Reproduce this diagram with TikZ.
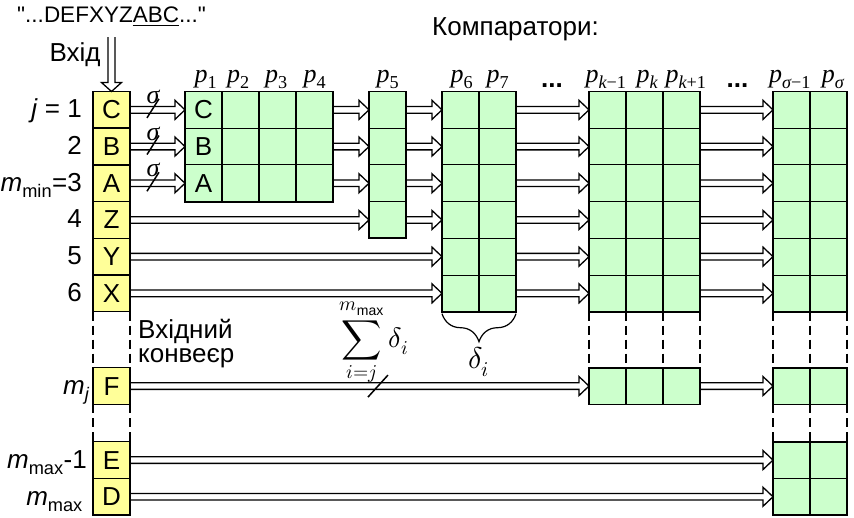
\documentclass[tikz,border=0pt]{standalone}
\usepackage{fontspec}
\usepackage{unicode-math}
\setmainfont{Liberation Sans}
\newfontfamily\plainsans{Liberation Sans}
\newfontfamily\tms{Liberation Serif}
\usetikzlibrary{calc,decorations.pathreplacing}
\definecolor{cgreen}{HTML}{CCFFCC}
\definecolor{cyellow}{HTML}{FFFF99}
\tikzset{
 ycell/.style={draw, line width=1.5pt, fill=cyellow, minimum width=37pt, minimum height=36.7pt, inner sep=0pt, outer sep=0pt, font=\fontsize{26}{30}\selectfont},
 gcell/.style={draw, line width=1pt, fill=cgreen, minimum width=37pt, minimum height=36.7pt, inner sep=0pt, outer sep=0pt},
 outerline/.style={line width=1.8pt},
 colline/.style={line width=1.5pt},
 arrline/.style={line width=1.3pt, line join=miter},
 dashedline/.style={line width=2pt, dash pattern=on 9pt off 5pt},
 lbl/.style={font=\fontsize{26}{30}\selectfont, inner sep=0pt},
 plbl/.style={font=\fontsize{26}{30}\selectfont, inner sep=0pt, anchor=base},
 slashline/.style={line width=1.5pt},
}
\newcommand\pl[1]{{\tms\itshape p}\textsubscript{\tms #1}}
\newcommand\compblock[5]{%
 \foreach \ri in {1,...,#5}{\foreach \ci in {1,...,#4}{
   \node[gcell] (#1-\ri-\ci) at ({#2+37*(\ci-0.5)},{#3+36.7*(\ri-0.5)}) {};}}
 \draw[outerline] (#1-1-1.north west) rectangle (#1-#5-#4.south east);
 \ifnum#4>1 \foreach \ci in {2,...,#4}{\draw[colline] (#1-1-\ci.north west) -- (#1-#5-\ci.south west);}\fi
}
\newcommand\harrow[2]{\draw[arrline] let \p1=#1, \p2=#2 in
 (\x1,\y1+3.3pt) -- (\x2-10pt,\y1+3.3pt) -- (\x2-10pt,\y1+9.5pt) -- (\x2,\y1)
 -- (\x2-10pt,\y1-9.5pt) -- (\x2-10pt,\y1-3.3pt) -- (\x1,\y1-3.3pt);}
\newcommand\varrow[2]{\draw[arrline] let \p1=#1, \p2=#2 in
 (\x1-3.5pt,\y1) -- (\x1-3.5pt,\y2+9pt) -- (\x1-10pt,\y2+9pt) -- (\x1,\y2)
 -- (\x1+10pt,\y2+9pt) -- (\x1+3.5pt,\y2+9pt) -- (\x1+3.5pt,\y1);}
\begin{document}
\begin{tikzpicture}[x=1pt,y=-1pt]
\useasboundingbox (0,0) rectangle (854,517);
% input column
\foreach \i/\L/\yy in {1/C/109.85,2/B/146.55,3/A/183.25,4/Z/219.95,5/Y/256.65,6/X/293.35,F/F/386.05,E/E/460.05,D/D/496.75}
  \node[ycell] (Y\i) at (111.5,\yy) {\L};
% comparators
\compblock{PA}{185}{91.5}{4}{3}
\compblock{PB}{369}{91.5}{1}{4}
\compblock{PC}{442}{91.5}{2}{6}
\compblock{PK}{589}{91.5}{3}{6}
\compblock{PS}{773}{91.5}{2}{6}
\compblock{PKF}{589}{367.7}{3}{1}
\compblock{PSF}{773}{367.7}{2}{1}
\compblock{PSE}{773}{441.7}{2}{2}
\node[lbl] (lc) at (PA-1-1) {C};
\node[lbl] (lb) at (PA-2-1) {B};
\node[lbl] (la) at (PA-3-1) {A};
% arrows
\foreach \i in {1,2,3}{
  \harrow{(Y\i.east)}{(PA-\i-1.west)}
  \draw[slashline] ($(Y\i.east)+(17,8)$) -- ++(12,-19);
  \node[font=\fontsize{26}{30}\selectfont\tms\itshape, inner sep=0pt] (sg\i) at ($(Y\i.east)+(23,-13)$) {σ};
  \harrow{(PA-\i-4.east)}{(PB-\i-1.west)}
}
\harrow{(Y4.east)}{(PB-4-1.west)}
\foreach \i in {1,...,4}{\harrow{(PB-\i-1.east)}{(PC-\i-1.west)}}
\foreach \i in {5,6}{\harrow{(Y\i.east)}{(PC-\i-1.west)}}
\foreach \i in {1,...,6}{
  \harrow{(PC-\i-2.east)}{(PK-\i-1.west)}
  \harrow{(PK-\i-3.east)}{(PS-\i-1.west)}
}
\harrow{(YF.east)}{(PKF-1-1.west)}
\harrow{(PKF-1-3.east)}{(PSF-1-1.west)}
\harrow{(YE.east)}{(PSE-1-1.west)}
\harrow{(YD.east)}{(PSE-2-1.west)}
\draw[slashline] ($(YF.east)+(238,11)$) -- ++(20,-22);
% input arrow
\coordinate (inTop) at (111.5,37);
\varrow{(inTop)}{(Y1.north)}
% dashed continuation lines
\draw[dashedline] (Y6.south west) -- (YF.north west);
\draw[dashedline] (Y6.south east) -- (YF.north east);
\draw[dashedline] (YF.south west) -- (YE.north west);
\draw[dashedline] (YF.south east) -- (YE.north east);
\foreach \ci in {1,2,3}{\draw[dashedline] (PK-6-\ci.south west) -- (PKF-1-\ci.north west);}
\draw[dashedline] (PK-6-3.south east) -- (PKF-1-3.north east);
\foreach \ci in {1,2}{
  \draw[dashedline] (PS-6-\ci.south west) -- (PSF-1-\ci.north west);
  \draw[dashedline] (PSF-1-\ci.south west) -- (PSE-1-\ci.north west);
}
\draw[dashedline] (PS-6-2.south east) -- (PSF-1-2.north east);
\draw[dashedline] (PSF-1-2.south east) -- (PSE-1-2.north east);
% brace
\draw[decorate, decoration={brace, mirror, amplitude=28pt}, line width=1.2pt]
  ($(PC-6-1.south west)+(0,2)$) -- ($(PC-6-2.south east)+(0,2)$);
\node[font=\fontsize{30}{34}\selectfont, inner sep=0pt] (dl) at (479,362) {$\delta_i$};
\node[font=\fontsize{28}{32}\selectfont, inner sep=0pt] (sum) at (374,342) {$\displaystyle\sum_{i=j}^{m_{\max}}\delta_i$};
% texts
\node[font=\fontsize{22.5}{26}\selectfont, inner sep=0pt] (top) at (111.5,17) {\plainsans "...DEFXYZ\underline{ABC}..."};
\node[lbl] (vh) at (75,55) {Вхід};
\node[lbl, anchor=base] (komp) at (515.5,35) {Компаратори:};
\node[lbl, anchor=base west] (vk1) at (138,338) {Вхідний};
\node[lbl, anchor=base west] (vk2) at (138,362) {конвеєр};
\node[lbl, anchor=base east] (j1) at (82,117.85) {\textit{j} = 1};
\node[lbl, anchor=base east] (j2) at (82,154.55) {2};
\node[lbl, anchor=base east] (j3) at (82,191.25) {\textit{m}\textsubscript{min}=3};
\node[lbl, anchor=base east] (j4) at (82,227.95) {4};
\node[lbl, anchor=base east] (j5) at (82,264.65) {5};
\node[lbl, anchor=base east] (j6) at (82,301.35) {6};
\node[lbl, anchor=base east] (jm) at (90,394) {\textit{m}\textsubscript{\textit{j}}};
\node[lbl, anchor=base east] (je) at (87,468) {\textit{m}\textsubscript{max}-1};
\node[lbl, anchor=base east] (jd) at (83,505) {\textit{m}\textsubscript{max}};
% comparator labels
\foreach \xx/\t in {206/1,238.5/2,276.5/3,315/4,388/5,462/6,498/7,606/{\itshape k\upshape −1},647.5/{\itshape k},686/{\itshape k\upshape +1},790/{\itshape σ\upshape −1},833/{\itshape σ}}
  \node[plbl] at (\xx,82) {\pl{\t}};
\node[lbl, anchor=base] (d1) at (552,87) {\textbf{...}};
\node[lbl, anchor=base] (d2) at (737.5,87) {\textbf{...}};
\end{tikzpicture}
\end{document}
